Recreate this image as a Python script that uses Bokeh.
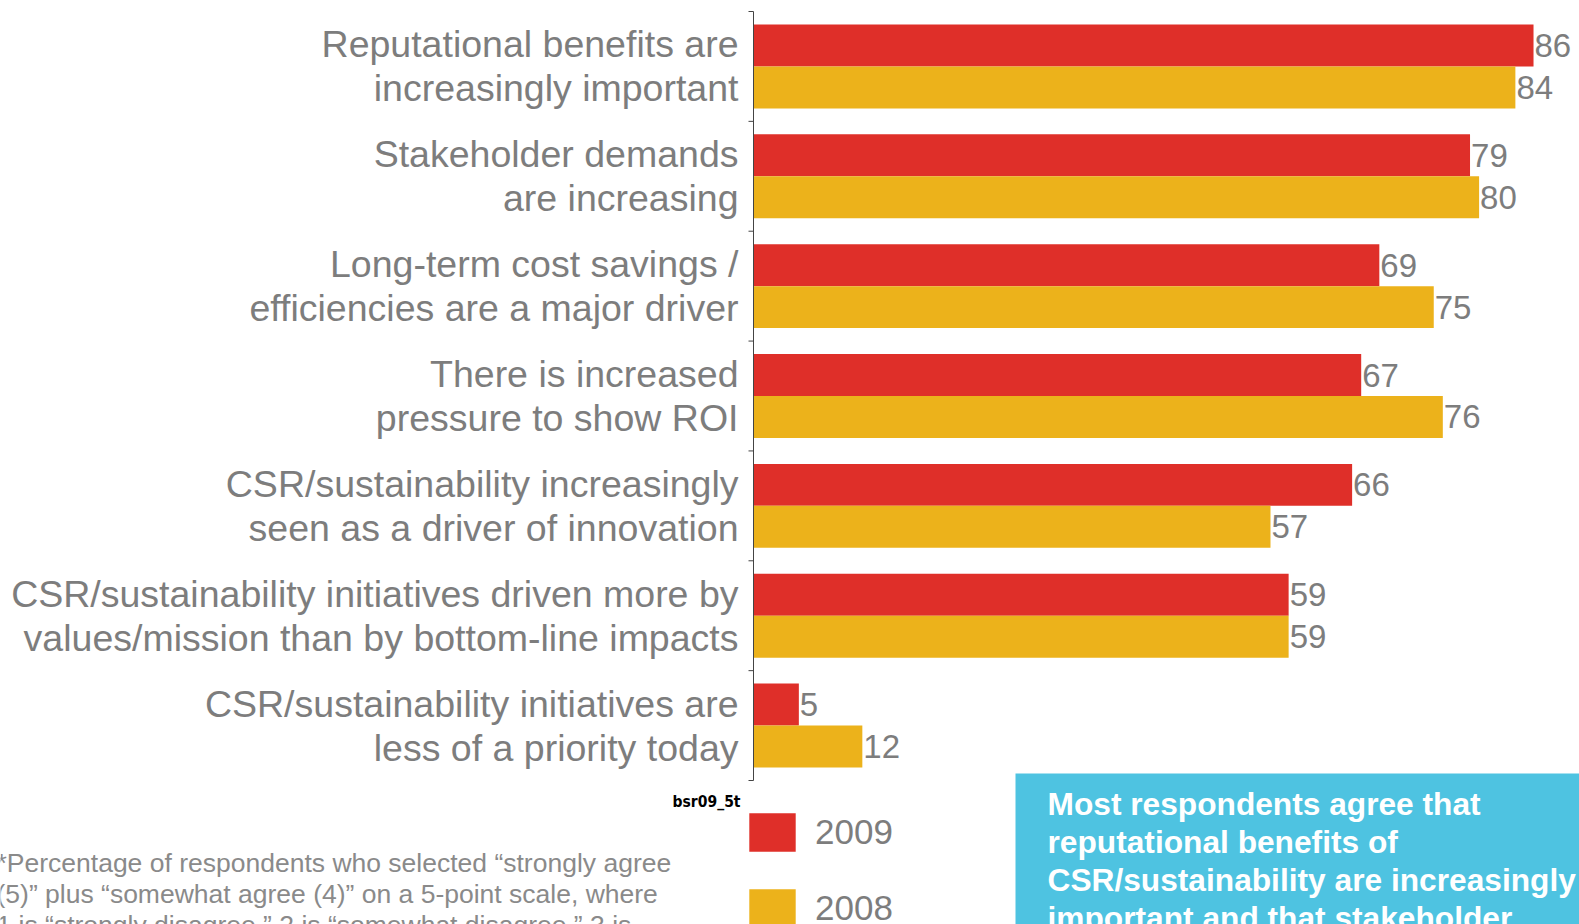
from bokeh.plotting import figure
from bokeh.models import (Range1d, ColumnDataSource, BoxAnnotation, Legend, LegendItem, Label)
from bokeh.core.properties import value
from bokeh.embed import file_html
from bokeh.resources import INLINE

# ---------------- data ----------------
categories = [
    "Reputational benefits are\nincreasingly important",
    "Stakeholder demands\nare increasing",
    "Long-term cost savings /\nefficiencies are a major driver",
    "There is increased\npressure to show ROI",
    "CSR/sustainability increasingly\nseen as a driver of innovation",
    "CSR/sustainability initiatives driven more by\nvalues/mission than by bottom-line impacts",
    "CSR/sustainability initiatives are\nless of a priority today",
]
values_2009 = [86, 79, 69, 67, 66, 59, 5]
values_2008 = [84, 80, 75, 76, 57, 59, 12]
series_labels = ["2009", "2008"]
footnote_lines = [
    "*Percentage of respondents who selected \u201cstrongly agree",
    "(5)\u201d plus \u201csomewhat agree (4)\u201d on a 5-point scale, where",
    "1 is \u201cstrongly disagree,\u201d 2 is \u201csomewhat disagree,\u201d 3 is",
]
callout_lines = [
    "Most respondents agree that",
    "reputational benefits of",
    "CSR/sustainability are increasingly",
    "important and that stakeholder",
]
source_tag = "bsr09_5t"

RED = "#DF2F29"
YELLOW = "#ECB21B"
GRAY = "#7d7d7d"
BLUE = "#4EC3E1"
AXIS = "#444444"
FONT = "Liberation Sans"

# ---------------- geometry (pixels) ----------------
W, H = 1579, 924
AX_X = 753            # pixel x of value 0
PX_PER_UNIT = 9.07    # pixels per percentage point
TOP_Y, BOT_Y = 11, 780  # pixel y of the category band
n = len(categories)
band = (BOT_Y - TOP_Y) / n

x_start = -AX_X / PX_PER_UNIT
x_end = (W - AX_X) / PX_PER_UNIT
y_end = n + TOP_Y / band
y_start = -(H - BOT_Y) / band

BAR_H = 0.382
centers = [n - 0.5 - i for i in range(n)]          # first category on top
src = ColumnDataSource(dict(
    cat=categories,
    yc=centers,
    y09=[c + BAR_H / 2 for c in centers],
    y08=[c - BAR_H / 2 for c in centers],
    v09=values_2009,
    v08=values_2008,
    t09=[str(v) for v in values_2009],
    t08=[str(v) for v in values_2008],
))

p = figure(
    width=W, height=H,
    x_range=Range1d(x_start, x_end), y_range=Range1d(y_start, y_end),
    output_backend="svg", toolbar_location=None,
    x_axis_location=None, y_axis_location=None,
    min_border=0, min_border_left=0, min_border_right=0,
    min_border_top=0, min_border_bottom=0,
)
p.outline_line_color = None
p.xgrid.visible = False
p.ygrid.visible = False

# bars
r09 = p.hbar(y="y09", right="v09", left=0, height=BAR_H, source=src,
             fill_color=RED, line_color=None)
r08 = p.hbar(y="y08", right="v08", left=0, height=BAR_H, source=src,
             fill_color=YELLOW, line_color=None)

# value labels
p.text(x="v09", y="y09", text="t09", source=src,
       x_offset=1, text_baseline="middle", text_align="left",
       text_font=value(FONT), text_font_size="33px", text_color=GRAY)
p.text(x="v08", y="y08", text="t08", source=src,
       x_offset=1, text_baseline="middle", text_align="left",
       text_font=value(FONT), text_font_size="33px", text_color=GRAY)

# category axis: line, boundary ticks, labels
boundaries = list(range(n + 1))
p.segment(x0=[0], y0=[0], x1=[0], y1=[n], line_color=AXIS, line_width=1)
p.segment(x0=[-5 / PX_PER_UNIT] * len(boundaries), y0=boundaries,
          x1=[0] * len(boundaries), y1=boundaries, line_color=AXIS, line_width=1)
p.text(x=0, y="yc", text="cat", source=src, x_offset=-15,
       text_baseline="middle", text_align="right",
       text_font=value(FONT), text_font_size="37.5px", text_color=GRAY,
       text_line_height=1.05)

# call-out box (screen units measured from the bottom-left corner)
p.add_layout(BoxAnnotation(left=1015, right=W + 20, top=H - 773, bottom=-20,
                           left_units="screen", right_units="screen",
                           top_units="screen", bottom_units="screen",
                           fill_color=BLUE, fill_alpha=1.0, line_color=None))
for i, t in enumerate(callout_lines):
    p.add_layout(Label(x=1047, y=H - (803 + 38 * i), x_units="screen", y_units="screen",
                       text=t, text_font=FONT, text_font_size="31.7px",
                       text_font_style="bold", text_color="white",
                       text_baseline="middle", text_align="left"))

# footnote
for i, t in enumerate(footnote_lines):
    p.add_layout(Label(x=-4, y=H - (862 + 31 * i), x_units="screen", y_units="screen",
                       text=t, text_font=FONT, text_font_size="26.5px",
                       text_color="#8a8a8a", text_baseline="middle", text_align="left"))

# source tag
p.add_layout(Label(x=740, y=H - 801, x_units="screen", y_units="screen",
                   text=source_tag, text_font="DejaVu Sans Condensed",
                   text_font_size="15.5px", text_font_style="bold", text_color="black",
                   text_align="right", text_baseline="alphabetic"))

# legend
legend = Legend(items=[LegendItem(label=series_labels[0], renderers=[r09]),
                       LegendItem(label=series_labels[1], renderers=[r08])],
                location=(743, -8),
                glyph_width=58, glyph_height=48, spacing=28, padding=0, margin=0,
                label_standoff=14, label_text_font=FONT, label_text_font_size="35px",
                label_text_color=GRAY, border_line_color=None, background_fill_alpha=0)
p.add_layout(legend, "center")

open("out.html", "w").write(file_html(p, INLINE))
